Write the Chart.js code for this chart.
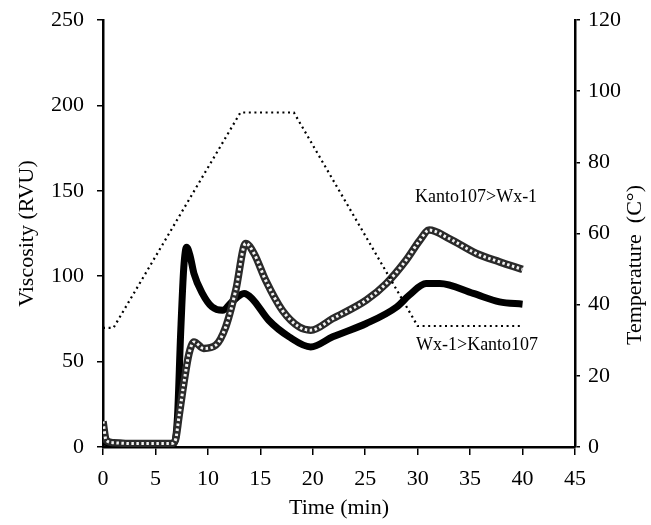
<!DOCTYPE html>
<html>
<head>
<meta charset="utf-8">
<script src="https://cdn.jsdelivr.net/npm/chart.js@4"></script>
<style>
  html, body { margin: 0; padding: 0; background: #fff; }
  #wrap { width: 651px; height: 525px; }
</style>
</head>
<body>
<div id="wrap"><canvas id="c" width="651" height="525"></canvas></div>
<script>
// Wx-1>Kanto107 (solid black)
const timeWx = [0, 1, 3, 5, 6.3, 6.76, 7.1, 7.4, 7.7, 7.97, 8.3, 8.67, 9.47, 10.4, 11.4, 12.3, 13.45, 14.2, 15.8, 17.75, 19.8, 21.9, 25.1, 28.0, 29.2, 30.8, 32.1, 35.3, 37.8, 40];
const viscWx = [3, 2, 2, 2, 2, 2, 17.6, 66, 105, 117, 112, 101.6, 90, 82, 80, 85, 89.9, 87, 74.2, 64.5, 58.6, 64.5, 72.3, 82, 88.9, 95.7, 95.7, 89.9, 85, 83.6];
// Kanto107>Wx-1 (open-circle line)
const timeKa = [0, 0.3, 1, 3, 5, 6.5, 6.9, 7.24, 7.7, 8.2, 8.67, 9.6, 10.75, 11.7, 12.66, 13.6, 14.4, 15.5, 17.1, 18.7, 19.8, 21.9, 25.1, 27, 28.9, 30.2, 31.1, 33.0, 35.6, 37.8, 40];
const viscKa = [15, 4, 2.5, 2, 2, 2, 4, 17.6, 37, 54.7, 61.5, 57.7, 59.6, 70.3, 91.8, 119.2, 113.3, 97.7, 80, 70.3, 68.4, 75.2, 86, 95.7, 109.4, 121, 127, 122, 113.3, 108.4, 104];
// Temperature profile (dotted, right axis)
const timeTemp = [0, 1.0, 13.1, 18.2, 30.0, 40];
const tempC = [33.5, 33.5, 94, 94, 34, 34];

const xTicks = [0, 5, 10, 15, 20, 25, 30, 35, 40, 45];
const yTicks = [0, 50, 100, 150, 200, 250];
const y2Ticks = [0, 20, 40, 60, 80, 100, 120];
const labelKa = 'Kanto107>Wx-1';
const labelWx = 'Wx-1>Kanto107';

const pts = (xs, ys) => xs.map((x, i) => ({ x: x, y: ys[i] }));
const FONT = '"Liberation Serif", "DejaVu Serif", serif';

const textPlugin = {
  id: 'extraText',
  afterDraw(chart) {
    const ctx = chart.ctx;
    ctx.save();
    ctx.fillStyle = '#000';
    ctx.font = '18px ' + FONT;
    ctx.textAlign = 'left';
    ctx.textBaseline = 'middle';
    ctx.fillText(labelKa, 415, 197);
    ctx.fillText(labelWx, 416, 345);
    // right axis title reading bottom-to-top
    ctx.font = '22px ' + FONT;
    ctx.translate(635, 265);
    ctx.rotate(-Math.PI / 2);
    ctx.textAlign = 'center';
    ctx.textBaseline = 'middle';
    ctx.fillText('Temperature  (C\u00B0)', 0, 0);
    ctx.restore();
  }
};

const axisCommon = {
  grid: { drawOnChartArea: false, drawTicks: true, tickLength: 6, color: '#000', lineWidth: 1.5 },
  border: { display: true, color: '#000', width: 2.5 },
  ticks: { color: '#000', font: { family: FONT, size: 22 }, padding: 4 }
};

new Chart(document.getElementById('c'), {
  type: 'line',
  data: {
    datasets: [
      {
        label: 'Temperature',
        data: pts(timeTemp, tempC),
        yAxisID: 'y2',
        order: 1,
        borderColor: '#000',
        borderWidth: 2.2,
        borderDash: [2, 3.6],
        pointRadius: 0,
        tension: 0,
        fill: false
      },
      {
        label: labelKa + ' (inner)',
        data: pts(timeKa, viscKa),
        yAxisID: 'y',
        order: 2,
        borderColor: '#f4f4f4',
        borderWidth: 3,
        borderDash: [2.5, 2.5],
        borderCapStyle: 'butt',
        pointRadius: 0,
        cubicInterpolationMode: 'monotone',
        fill: false
      },
      {
        label: labelKa,
        data: pts(timeKa, viscKa),
        yAxisID: 'y',
        order: 3,
        borderColor: '#2a2a2a',
        borderWidth: 7.5,
        pointRadius: 0,
        cubicInterpolationMode: 'monotone',
        fill: false
      },
      {
        label: labelWx,
        data: pts(timeWx, viscWx),
        yAxisID: 'y',
        order: 4,
        borderColor: '#000',
        borderWidth: 7,
        pointRadius: 0,
        cubicInterpolationMode: 'monotone',
        fill: false
      }
    ]
  },
  options: {
    responsive: false,
    animation: false,
    events: [],
    layout: { padding: { top: 20, left: 0, right: 0, bottom: 0 } },
    plugins: { legend: { display: false }, tooltip: { enabled: false } },
    scales: {
      x: {
        type: 'linear', min: 0, max: 45,
        afterBuildTicks: s => { s.ticks = xTicks.map(v => ({ value: v })); },
        afterFit: s => { s.height = 78; },
        grid: Object.assign({}, axisCommon.grid, { tickLength: 8 }), border: axisCommon.border,
        ticks: Object.assign({}, axisCommon.ticks, { padding: 11, maxRotation: 0 }),
        title: { display: true, text: 'Time (min)', color: '#000', font: { family: FONT, size: 22 }, padding: { top: 0, bottom: 4 } }
      },
      y: {
        type: 'linear', position: 'left', min: 0, max: 250,
        afterBuildTicks: s => { s.ticks = yTicks.map(v => ({ value: v })); },
        afterFit: s => { s.width = 103; s.paddingTop = 8; s.paddingBottom = 8; },
        grid: axisCommon.grid, border: axisCommon.border,
        ticks: Object.assign({}, axisCommon.ticks, { padding: 13 }),
        title: { display: true, text: 'Viscosity (RVU)', color: '#000', font: { family: FONT, size: 22 }, padding: { top: 14, bottom: 0 } }
      },
      y2: {
        type: 'linear', position: 'right', min: 0, max: 120,
        afterBuildTicks: s => { s.ticks = y2Ticks.map(v => ({ value: v })); },
        afterFit: s => { s.width = 76; s.paddingTop = 8; s.paddingBottom = 8; },
        grid: Object.assign({}, axisCommon.grid, { tickLength: 5 }), border: axisCommon.border,
        ticks: Object.assign({}, axisCommon.ticks, { padding: 8 })
      }
    }
  },
  plugins: [textPlugin]
});
</script>
</body>
</html>
